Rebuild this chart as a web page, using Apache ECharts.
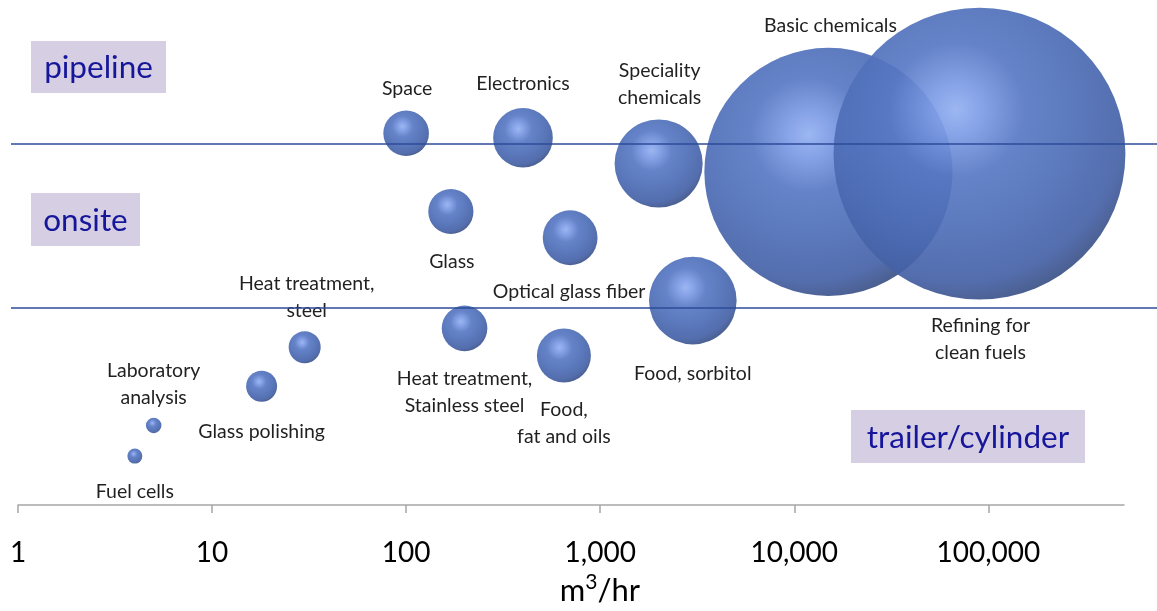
<!DOCTYPE html>
<html>
<head>
<meta charset="utf-8">
<script src="https://cdn.jsdelivr.net/npm/echarts@6/dist/echarts.min.js"></script>
<style>
  html, body { margin: 0; padding: 0; background: #ffffff; }
  #chart { width: 1157px; height: 611px; }
</style>
</head>
<body>
<div id="chart"></div>
<script>
// ---------------- data ----------------
const categories = [
  'Fuel cells', 'Laboratory\nanalysis', 'Glass polishing', 'Heat treatment,\nsteel',
  'Space', 'Glass', 'Heat treatment,\nStainless steel', 'Electronics',
  'Optical glass fiber', 'Food,\nfat and oils', 'Speciality\nchemicals', 'Food, sorbitol',
  'Basic chemicals', 'Refining for\nclean fuels'
];
// flow rate, m3/hr (x, log scale)
const flowRate = [4, 5, 18, 30, 100, 170, 200, 400, 700, 650, 2000, 3000, 15000, 90000];
// vertical placement (supply mode band), arbitrary 0-100 scale
const supplyLevel = [9.9, 16.1, 24, 31.9, 75.1, 59.3, 35.7, 74.2, 54, 30.2, 69, 41.3, 67.3, 71];
// relative bubble size (area)
const bubbleSize = [0.56, 0.6, 2.4, 2.56, 5.2, 5.1, 5.2, 8.9, 7.5, 7.3, 19.4, 19.2, 154, 213];
// band boundaries on the vertical scale
const bandLimits = [73.3, 40.4];
const bandNames = ['pipeline', 'onsite', 'trailer/cylinder'];
const xTicks = [1, 10, 100, 1000, 10000, 100000];

// ---------------- layout / style ----------------
const labelOffsets = [
  [0, 36], [0, -41.5], [0, 45], [2, -50],
  [1, -45], [1, 50], [0, 64], [0, -54],
  [-1, 54], [0, 68], [1, -79.5], [0, 73],
  [2, -146], [1, 185.5]
];
const bandBoxes = [
  { x: 31, y: 41, w: 135, h: 52 },
  { x: 31, y: 193, w: 109, h: 53 },
  { x: 851, y: 410, w: 234, h: 53 }
];
const FONT = 'Lato, "Noto Sans", sans-serif';

const bubbleColor = {
  type: 'radial', x: 0.42, y: 0.35, r: 0.72,
  colorStops: [
    { offset: 0, color: '#93b0f0' },
    { offset: 0.12, color: '#7d9ce6' },
    { offset: 0.32, color: '#5878c4' },
    { offset: 0.6, color: '#4c6cb5' },
    { offset: 0.82, color: '#4561a6' },
    { offset: 0.93, color: '#3b5186' },
    { offset: 1, color: '#36476f' }
  ]
};

const scatterData = categories.map((name, i) => ({
  name: name,
  value: [flowRate[i], supplyLevel[i], bubbleSize[i]]
}));

const graphics = [];
bandNames.forEach((t, i) => {
  const b = bandBoxes[i];
  graphics.push({
    type: 'rect', left: b.x, top: b.y, z: 10,
    shape: { width: b.w, height: b.h },
    style: { fill: '#d6cfe4' }
  });
  graphics.push({
    type: 'text', x: b.x + b.w / 2, y: b.y + b.h / 2 + 1, z: 11,
    style: {
      text: t, fill: '#16169a', font: '31.5px ' + FONT,
      textAlign: 'center', textVerticalAlign: 'middle'
    }
  });
});

const chart = echarts.init(document.getElementById('chart'), null, { renderer: 'canvas' });
chart.setOption({
  animation: false,
  backgroundColor: '#ffffff',
  textStyle: { fontFamily: FONT },
  grid: [
    { left: 18, right: 33, top: 10, bottom: 101, containLabel: false },
    { left: 11, right: 0, top: 10, bottom: 101, containLabel: false }
  ],
  xAxis: [{
    type: 'log', logBase: 10, min: 1, max: 500000, gridIndex: 0,
    axisLine: { show: true, onZero: false, lineStyle: { color: '#a6a6a6', width: 1.5 } },
    axisTick: { show: true, length: 8, lineStyle: { color: '#a6a6a6', width: 1.5 }, customValues: xTicks },
    minorTick: { show: false },
    splitLine: { show: false },
    axisLabel: {
      customValues: xTicks,
      margin: 34, fontSize: 28, color: '#000000', fontFamily: FONT,
      formatter: v => {
        const r = Math.round(v);
        const l = Math.log10(r);
        return Math.abs(l - Math.round(l)) < 1e-6 ? r.toLocaleString('en-US') : '';
      }
    },
    name: '{a|m}{s|3}{a|/hr}',
    nameLocation: 'middle', nameGap: 65,
    nameTextStyle: {
      padding: [0, 0, 0, 58],
      rich: {
        a: { fontSize: 31, fontFamily: FONT, color: '#000', lineHeight: 34, verticalAlign: 'bottom' },
        s: { fontSize: 21, fontFamily: FONT, color: '#000', lineHeight: 22, verticalAlign: 'top' }
      }
    }
  }, {
    type: 'value', min: 0, max: 1, gridIndex: 1, show: false
  }],
  yAxis: [
    { type: 'value', min: 0, max: 100, gridIndex: 0, show: false },
    { type: 'value', min: 0, max: 100, gridIndex: 1, show: false }
  ],
  series: [{
    type: 'scatter',
    xAxisIndex: 0, yAxisIndex: 0,
    data: scatterData,
    symbol: 'circle',
    symbolSize: d => 20 * Math.sqrt(d[2]),
    itemStyle: { color: bubbleColor, opacity: 0.92 },
    label: {
      show: true, position: 'inside',
      formatter: p => p.name,
      color: '#0d0d0d', fontSize: 19.5, fontFamily: FONT,
      lineHeight: 27, align: 'center', verticalAlign: 'middle'
    },
    labelLayout: p => ({ dx: labelOffsets[p.dataIndex][0], dy: labelOffsets[p.dataIndex][1], hideOverlap: false }),
    emphasis: { disabled: true },
    z: 2
  }, {
    type: 'scatter',
    xAxisIndex: 1, yAxisIndex: 1,
    data: [[0, -50]],
    symbolSize: 0,
    silent: true,
    z: 5,
    markLine: {
      silent: true, symbol: ['none', 'none'],
      label: { show: false },
      lineStyle: { color: '#2c4b98', width: 1.5, type: 'solid' },
      data: bandLimits.map(v => ({ yAxis: v }))
    }
  }],
  graphic: graphics
});
</script>
</body>
</html>
